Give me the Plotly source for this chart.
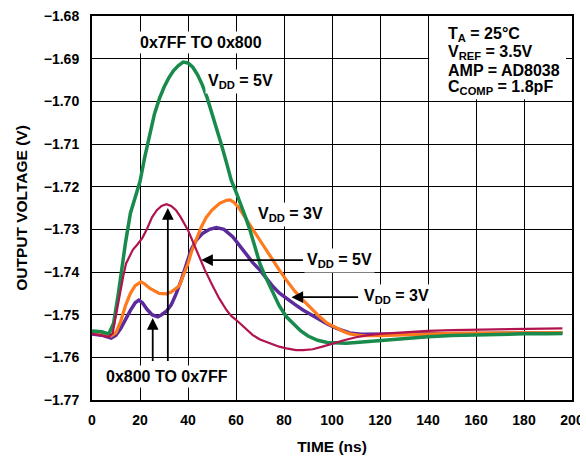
import plotly.graph_objects as go

# ---------------- data ----------------
t_green = [0, 4, 7, 9, 11, 12, 13, 14, 16, 18, 20, 22, 24, 26, 28, 30, 32, 34, 36, 38, 40,
           42, 44, 46, 48, 50, 52, 54, 56, 58, 60, 62, 64, 66, 68, 70, 72, 74, 76, 78, 81,
           84, 87, 90, 94, 98, 102, 106, 110, 120, 130, 140, 150, 160, 170, 180, 190, 196]
v_green = [-1.7538, -1.7540, -1.7545, -1.7520, -1.7450, -1.7410, -1.7365, -1.7330, -1.7262,
           -1.7222, -1.7188, -1.7130, -1.7075, -1.7030, -1.6995, -1.6967, -1.6945, -1.6928,
           -1.6916, -1.6908, -1.6910, -1.6920, -1.6938, -1.6962, -1.6992, -1.7027, -1.7065,
           -1.7103, -1.7143, -1.7185, -1.7212, -1.7240, -1.7272, -1.7305, -1.7345, -1.7381,
           -1.7408, -1.7433, -1.7457, -1.7479, -1.7505, -1.7522, -1.7538, -1.7550, -1.7560,
           -1.7565, -1.7567, -1.7567, -1.7565, -1.7560, -1.7556, -1.7552, -1.7549, -1.7547,
           -1.7546, -1.7545, -1.7545, -1.7544]

t_magenta = [0, 4, 7, 8.6, 10, 11.4, 13, 14.2, 16, 17, 19, 21, 23, 25, 27, 29, 31, 33, 35, 37,
             40, 42, 44.8, 47, 50.4, 53, 56, 58, 60, 63, 67, 70, 74, 78, 81, 85, 88, 92, 96,
             100, 105, 110, 115, 120, 130, 140, 150, 160, 170, 180, 190, 196]
v_magenta = [-1.7545, -1.7548, -1.7552, -1.7544, -1.7500, -1.7458, -1.7410, -1.7380, -1.7357,
             -1.7348, -1.7335, -1.7320, -1.7298, -1.7272, -1.7255, -1.7245, -1.7241, -1.7245,
             -1.7255, -1.7272, -1.7302, -1.7328, -1.7364, -1.7395, -1.7434, -1.7462, -1.7489,
             -1.7503, -1.7512, -1.7528, -1.7548, -1.7558, -1.7567, -1.7575, -1.7579, -1.7583,
             -1.7583, -1.7581, -1.7575, -1.7568, -1.7560, -1.7553, -1.7548, -1.7545, -1.7541,
             -1.7538, -1.7536, -1.7535, -1.7534, -1.7533, -1.7532, -1.7532]

t_orange = [0, 4, 8, 10, 12, 14, 16, 18, 20.4, 22, 24, 26, 28, 30.9, 33, 36.4, 38, 40, 41.5,
            43.4, 45.5, 47.6, 50, 53.2, 56, 57.5, 59, 61, 64.3, 67, 69.9, 72.5, 75.4, 78, 81,
            84.5, 87.9, 91.5, 94.9, 98, 101.9, 105, 107.4, 112, 120, 130, 140, 150, 160, 170,
            180, 190, 196]
v_orange = [-1.7540, -1.7542, -1.7550, -1.7542, -1.7515, -1.7478, -1.7450, -1.7432, -1.7423,
            -1.7428, -1.7438, -1.7445, -1.7450, -1.7451, -1.7447, -1.7432, -1.7410, -1.7380,
            -1.7352, -1.7325, -1.7295, -1.7272, -1.7255, -1.7239, -1.7232, -1.7231, -1.7236,
            -1.7248, -1.7278, -1.7300, -1.7325, -1.7348, -1.7372, -1.7395, -1.7419, -1.7445,
            -1.7466, -1.7487, -1.7505, -1.7520, -1.7532, -1.7540, -1.7545, -1.7549, -1.7549,
            -1.7547, -1.7545, -1.7544, -1.7543, -1.7543, -1.7542, -1.7542, -1.7542]

t_purple = [0, 4, 8, 10, 12, 14, 16, 18, 19.5, 21, 23, 25, 27.4, 29, 31, 33, 35, 37.2, 39,
            41.3, 43.5, 46.2, 49, 51.8, 55, 58.7, 61.5, 64.3, 67, 69.9, 72.5, 75.4, 78, 81,
            84.5, 87.9, 91.5, 94.9, 98, 101.9, 104.5, 107.4, 112, 120, 140, 160, 180, 196]
v_purple = [-1.7545, -1.7548, -1.7555, -1.7548, -1.7532, -1.7510, -1.7490, -1.7472, -1.7466,
            -1.7472, -1.7488, -1.7500, -1.7505, -1.7500, -1.7492, -1.7477, -1.7452, -1.7419,
            -1.7385, -1.7348, -1.7325, -1.7309, -1.7300, -1.7296, -1.7300, -1.7318, -1.7338,
            -1.7360, -1.7378, -1.7395, -1.7415, -1.7434, -1.7449, -1.7462, -1.7476, -1.7489,
            -1.7501, -1.7512, -1.7522, -1.7532, -1.7538, -1.7543, -1.7546, -1.7546, -1.7545,
            -1.7544, -1.7543, -1.7543]

x_ticks = [0, 20, 40, 60, 80, 100, 120, 140, 160, 180, 200]
y_ticks = [-1.77, -1.76, -1.75, -1.74, -1.73, -1.72, -1.71, -1.70, -1.69, -1.68]
y_tick_text = ["\u22121.77", "\u22121.76", "\u22121.75", "\u22121.74", "\u22121.73",
               "\u22121.72", "\u22121.71", "\u22121.70", "\u22121.69", "\u22121.68"]

info_lines = ["T<sub>A</sub> = 25°C", "V<sub>REF</sub> = 3.5V", "AMP = AD8038",
              "C<sub>COMP</sub> = 1.8pF"]

# ---------------- styling ----------------
FONT = "Liberation Sans, Arial, sans-serif"
C_GREEN = "#188a4c"
C_ORANGE = "#ff7a1c"
C_PURPLE = "#5b2b9c"
C_MAGENTA = "#b0134f"

fig = go.Figure()
fig.add_trace(go.Scatter(x=t_purple, y=v_purple, mode="lines",
                         line=dict(color=C_PURPLE, width=3.5)))
fig.add_trace(go.Scatter(x=t_orange, y=v_orange, mode="lines",
                         line=dict(color=C_ORANGE, width=3.2)))
fig.add_trace(go.Scatter(x=t_green, y=v_green, mode="lines",
                         line=dict(color=C_GREEN, width=3.5)))
fig.add_trace(go.Scatter(x=t_magenta, y=v_magenta, mode="lines",
                         line=dict(color=C_MAGENTA, width=2.2)))

# white box behind the condition text (hides the grid)
fig.add_shape(type="rect", xref="x", yref="y", x0=140.5, x1=197.5, y0=-1.6995, y1=-1.68,
              fillcolor="white", line=dict(width=0), layer="between")

afont = dict(family=FONT, size=16, color="black", weight="bold")

def label(text, x, y, xanchor="center"):
    fig.add_annotation(x=x, y=y, xref="x", yref="y", text=text, showarrow=False,
                       font=afont, bgcolor="white", borderpad=2, xanchor=xanchor,
                       yanchor="middle")

def arrow(x, y, ax, ay):
    fig.add_annotation(x=x, y=y, ax=ax, ay=ay, xref="x", yref="y", axref="x", ayref="y",
                       text="", showarrow=True, arrowhead=2, arrowsize=1.3, arrowwidth=1.8,
                       arrowcolor="black")

label("0x7FF TO 0x800", 45.5, -1.6862)
label("V<sub>DD</sub> = 5V", 61.8, -1.6953)
label("V<sub>DD</sub> = 3V", 82.7, -1.7266)
arrow(45.5, -1.7372, 88.5, -1.7372)
label("V<sub>DD</sub> = 5V", 103.3, -1.7374)
arrow(83.1, -1.7459, 111.5, -1.7459)
label("V<sub>DD</sub> = 3V", 126.9, -1.7458)
arrow(25.3, -1.7508, 25.3, -1.7612)
arrow(31.6, -1.7250, 31.6, -1.7612)
label("0x800 TO 0x7FF", 31.2, -1.7646)

info_y = [-1.6843, -1.6886, -1.6928, -1.6968]
for txt, yy in zip(info_lines, info_y):
    fig.add_annotation(x=147.5, y=yy, xref="x", yref="y", text=txt, showarrow=False,
                       font=afont, xanchor="left", yanchor="middle")

axis_common = dict(showgrid=True, gridcolor="black", gridwidth=1.4, showline=True,
                   linecolor="black", linewidth=2, mirror=True, zeroline=False, ticks="",
                   automargin=False, ticklabeloverflow="allow",
                   tickfont=dict(family=FONT, size=14, color="black", weight="bold"))

fig.update_xaxes(range=[0, 200], tickvals=x_ticks, ticktext=[str(v) for v in x_ticks],
                 ticklabelstandoff=6,
                 title=dict(text="TIME (ns)", standoff=14,
                            font=dict(family=FONT, size=15.5, color="black", weight="bold")),
                 **axis_common)
fig.update_yaxes(range=[-1.77, -1.68], tickvals=y_ticks, ticktext=y_tick_text,
                 ticklabelstandoff=8,
                 title=dict(text="OUTPUT VOLTAGE (V)", standoff=12,
                            font=dict(family=FONT, size=15.5, color="black", weight="bold")),
                 **axis_common)

# the page places the figure 8px in from the top-left corner
fig.update_layout(width=580, height=449, margin=dict(l=84, r=16, t=8, b=57),
                  paper_bgcolor="white", plot_bgcolor="white", showlegend=False,
                  font=dict(family=FONT, color="black"))

fig.write_html("out.html")
